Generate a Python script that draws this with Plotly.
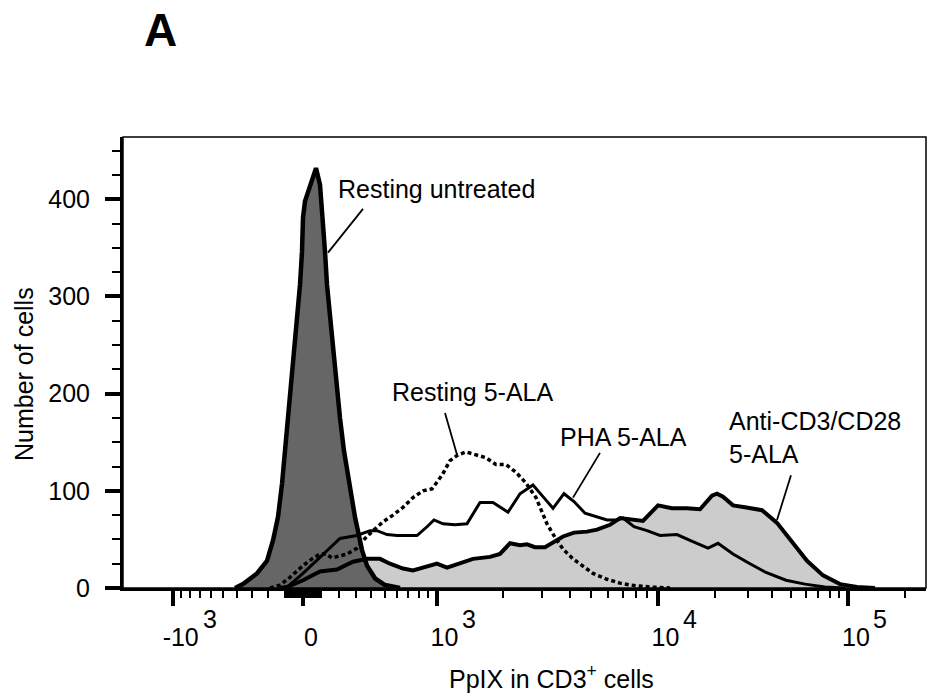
import numpy as np
import plotly.graph_objects as go

# ── Histogram data (x = display channel on the biexponential scale) ──────────
UNTREATED_CH = [112, 120, 134, 144, 150, 155, 159, 162, 165, 169, 172, 175, 177, 179, 180, 182, 187,
                193, 197, 200, 202, 204, 207, 210, 214, 217, 221, 226, 232, 239, 244, 252, 262, 277]
UNTREATED_N = [0, 4, 15, 28, 49, 73, 107, 141, 175, 209, 244, 278, 312, 346, 381, 398, 415,
               432, 415, 381, 346, 312, 278, 244, 209, 175, 141, 107, 73, 39, 23, 10, 3, 0]

RESTING_CH = [147, 157, 167, 180, 189, 197, 203, 209, 217, 224, 234, 242, 250, 260, 270, 280, 290, 300,
              309, 319, 327, 335, 343, 353, 363, 373, 383, 393, 403, 413, 418, 424, 432, 440, 450, 460,
              470, 484, 497, 507, 527, 547]
RESTING_N = [0, 3, 11, 23, 30, 35, 35, 31, 33, 35, 41, 51, 59, 68, 75, 83, 93, 100,
             102, 116, 131, 137, 140, 137, 134, 127, 127, 119, 108, 93, 80, 66, 52, 40, 30, 22,
             15, 9, 5, 3, 1, 0]

PHA_CH = [157, 164, 180, 197, 207, 217, 234, 247, 254, 264, 274, 284, 294, 304, 311, 320, 332, 344,
          357, 370, 379, 385, 397, 410, 420, 430, 441, 451, 462, 474, 484, 494, 500, 511, 524, 537,
          554, 567, 585, 595, 610, 627, 643, 663, 682, 702, 722]
PHA_N = [0, 1, 15, 32, 42, 51, 54, 59, 59, 55, 54, 54, 54, 63, 70, 66, 65, 66,
         88, 88, 82, 78, 97, 106, 94, 82, 97, 89, 77, 73, 70, 70, 72, 63, 59, 54,
         55, 49, 41, 46, 35, 25, 16, 8, 4, 1, 0]

ANTI_CH = [157, 164, 180, 197, 214, 230, 244, 257, 267, 280, 290, 304, 314, 324, 337, 350, 367, 377,
           387, 397, 404, 412, 422, 430, 440, 451, 464, 474, 487, 497, 508, 520, 535, 549, 564, 577,
           589, 594, 600, 610, 622, 639, 654, 668, 684, 700, 717, 734, 752]
ANTI_N = [0, 1, 8, 17, 19, 27, 30, 30, 25, 20, 18, 22, 25, 21, 25, 30, 32, 35,
          46, 44, 45, 42, 42, 47, 53, 57, 58, 60, 65, 72, 71, 69, 85, 82, 82, 81,
          95, 97, 94, 85, 83, 80, 67, 49, 28, 13, 4, 1, 0]

# ── Biexponential display scale (channel positions of the decades) ────────────
CH_NEG3, CH_0, CH_3, CH_4 = 49.7, 180.0, 313.5, 534.5
DEC_MID, DEC_HI = 221.0, 190.5


def biex(v):
    """Map a fluorescence value to a display channel."""
    if v >= 1e4:
        return CH_4 + np.log10(v / 1e4) * DEC_HI
    if v >= 1e3:
        return CH_3 + np.log10(v / 1e3) * DEC_MID
    s = np.arcsinh(abs(v) / 500) / np.arcsinh(2)
    return CH_0 + s * (CH_3 - CH_0) if v >= 0 else CH_0 - s * (CH_0 - CH_NEG3)


MAJOR_VALS = [-1e3, 0, 1e3, 1e4, 1e5]
MAJOR_BASE = ["-10", "0", "10", "10", "10"]
MAJOR_EXP = ["3", "", "3", "4", "5"]
MINOR_VALS = ([-k * 100 for k in range(1, 10)] + [-k * 10 for k in range(1, 10)]
              + [k * 10 for k in range(1, 10)] + [k * 100 for k in range(1, 10)]
              + [k * 1000 for k in range(2, 10)] + [k * 10000 for k in range(2, 10)] + [2e5])

FONT = "Liberation Sans, Arial, sans-serif"
DARK = "#666666"
LIGHT = "#cccccc"

fig = go.Figure()

# fills first (light under dark), outlines on top
fig.add_trace(go.Scatter(x=ANTI_CH, y=ANTI_N, mode="lines", fill="tozeroy",
                         fillcolor=LIGHT, line=dict(width=0), hoverinfo="skip"))
fig.add_trace(go.Scatter(x=UNTREATED_CH, y=UNTREATED_N, mode="lines", fill="tozeroy",
                         fillcolor=DARK, line=dict(width=0), hoverinfo="skip"))
fig.add_trace(go.Scatter(x=ANTI_CH, y=ANTI_N, mode="lines", name="Anti-CD3/CD28 5-ALA",
                         line=dict(color="black", width=4)))
fig.add_trace(go.Scatter(x=PHA_CH, y=PHA_N, mode="lines", name="PHA 5-ALA",
                         line=dict(color="black", width=3)))
fig.add_trace(go.Scatter(x=RESTING_CH, y=RESTING_N, mode="lines", name="Resting 5-ALA",
                         line=dict(color="black", width=3.5, dash="4px,3px")))
fig.add_trace(go.Scatter(x=UNTREATED_CH, y=UNTREATED_N, mode="lines", name="Resting untreated",
                         line=dict(color="black", width=4.5)))

# ── Curve labels with leader lines ───────────────────────────────────────────
labels = [
    ("Resting untreated", 213, 411, (240, 390, 205, 345)),
    ("Resting 5-ALA", 267, 202, (322, 180, 334, 137)),
    ("PHA 5-ALA", 435, 155, (477, 139, 450, 93)),
    ("Anti-CD3/CD28<br>5-ALA", 604, 155, (668, 116, 654, 70)),
]
for text, lx, ly, (x0, y0, x1, y1) in labels:
    fig.add_annotation(x=lx, y=ly, text=text, showarrow=False, xanchor="left", yanchor="middle",
                       align="left", font=dict(size=25, color="black", family=FONT))
    fig.add_shape(type="line", x0=x0, y0=y0, x1=x1, y1=y1, line=dict(color="black", width=1.8))

# exponents of the decade labels, drawn full size like the original
for v, exp in zip(MAJOR_VALS, MAJOR_EXP):
    if exp:
        fig.add_annotation(x=biex(v), y=0, yref="paper", text=exp, showarrow=False,
                           xanchor="center", yanchor="middle",
                           xshift=37 if v < 0 else 32, yshift=-31,
                           font=dict(size=25, color="black", family=FONT))

# frame
fig.add_shape(type="rect", xref="paper", yref="paper", x0=0, y0=0, x1=1, y1=1,
              line=dict(color="black", width=1.5), layer="above")

fig.add_annotation(x=0.0473, y=1.237, xref="paper", yref="paper", text="<b>A</b>", showarrow=False,
                   xanchor="center", yanchor="middle", font=dict(size=46, color="black", family=FONT))
fig.add_annotation(x=-0.1233, y=0.4745, xref="paper", yref="paper", text="Number of cells",
                   textangle=-90, showarrow=False, xanchor="center", yanchor="middle",
                   font=dict(size=25, color="black", family=FONT))
fig.add_annotation(x=0.534, y=-0.197, xref="paper", yref="paper", text="PpIX in CD3<sup>+</sup> cells",
                   showarrow=False, xanchor="center", yanchor="middle",
                   font=dict(size=25, color="black", family=FONT))

fig.update_layout(
    width=929,
    height=697,
    paper_bgcolor="white",
    plot_bgcolor="white",
    showlegend=False,
    margin=dict(l=123, r=3, t=137, b=109),
    font=dict(family=FONT, size=25, color="black"),
    xaxis=dict(
        range=[0, 803],
        showgrid=False, zeroline=False,
        showline=True, linecolor="black", linewidth=3,
        tickmode="array",
        tickvals=[biex(v) for v in MAJOR_VALS],
        ticktext=MAJOR_BASE,
        ticks="outside", ticklen=15, tickwidth=4, tickcolor="black",
        ticklabelshift=8, ticklabelstandoff=10,
        tickfont=dict(size=25, family=FONT),
        minor=dict(tickmode="array", tickvals=[biex(v) for v in MINOR_VALS],
                   ticks="outside", ticklen=7, tickwidth=2, tickcolor="black"),
    ),
    yaxis=dict(
        range=[0, 464],
        showgrid=False, zeroline=False,
        showline=True, linecolor="black", linewidth=3,
        tickmode="array", tickvals=[0, 100, 200, 300, 400],
        ticks="outside", ticklen=15, tickwidth=4, tickcolor="black",
        ticklabelstandoff=10,
        tickfont=dict(size=25, family=FONT),
        minor=dict(dtick=25, ticks="outside", ticklen=8, tickwidth=2, tickcolor="black"),
    ),
)

fig.write_html("out.html", config={"displayModeBar": False},
               post_script="document.body.style.margin='0';")
